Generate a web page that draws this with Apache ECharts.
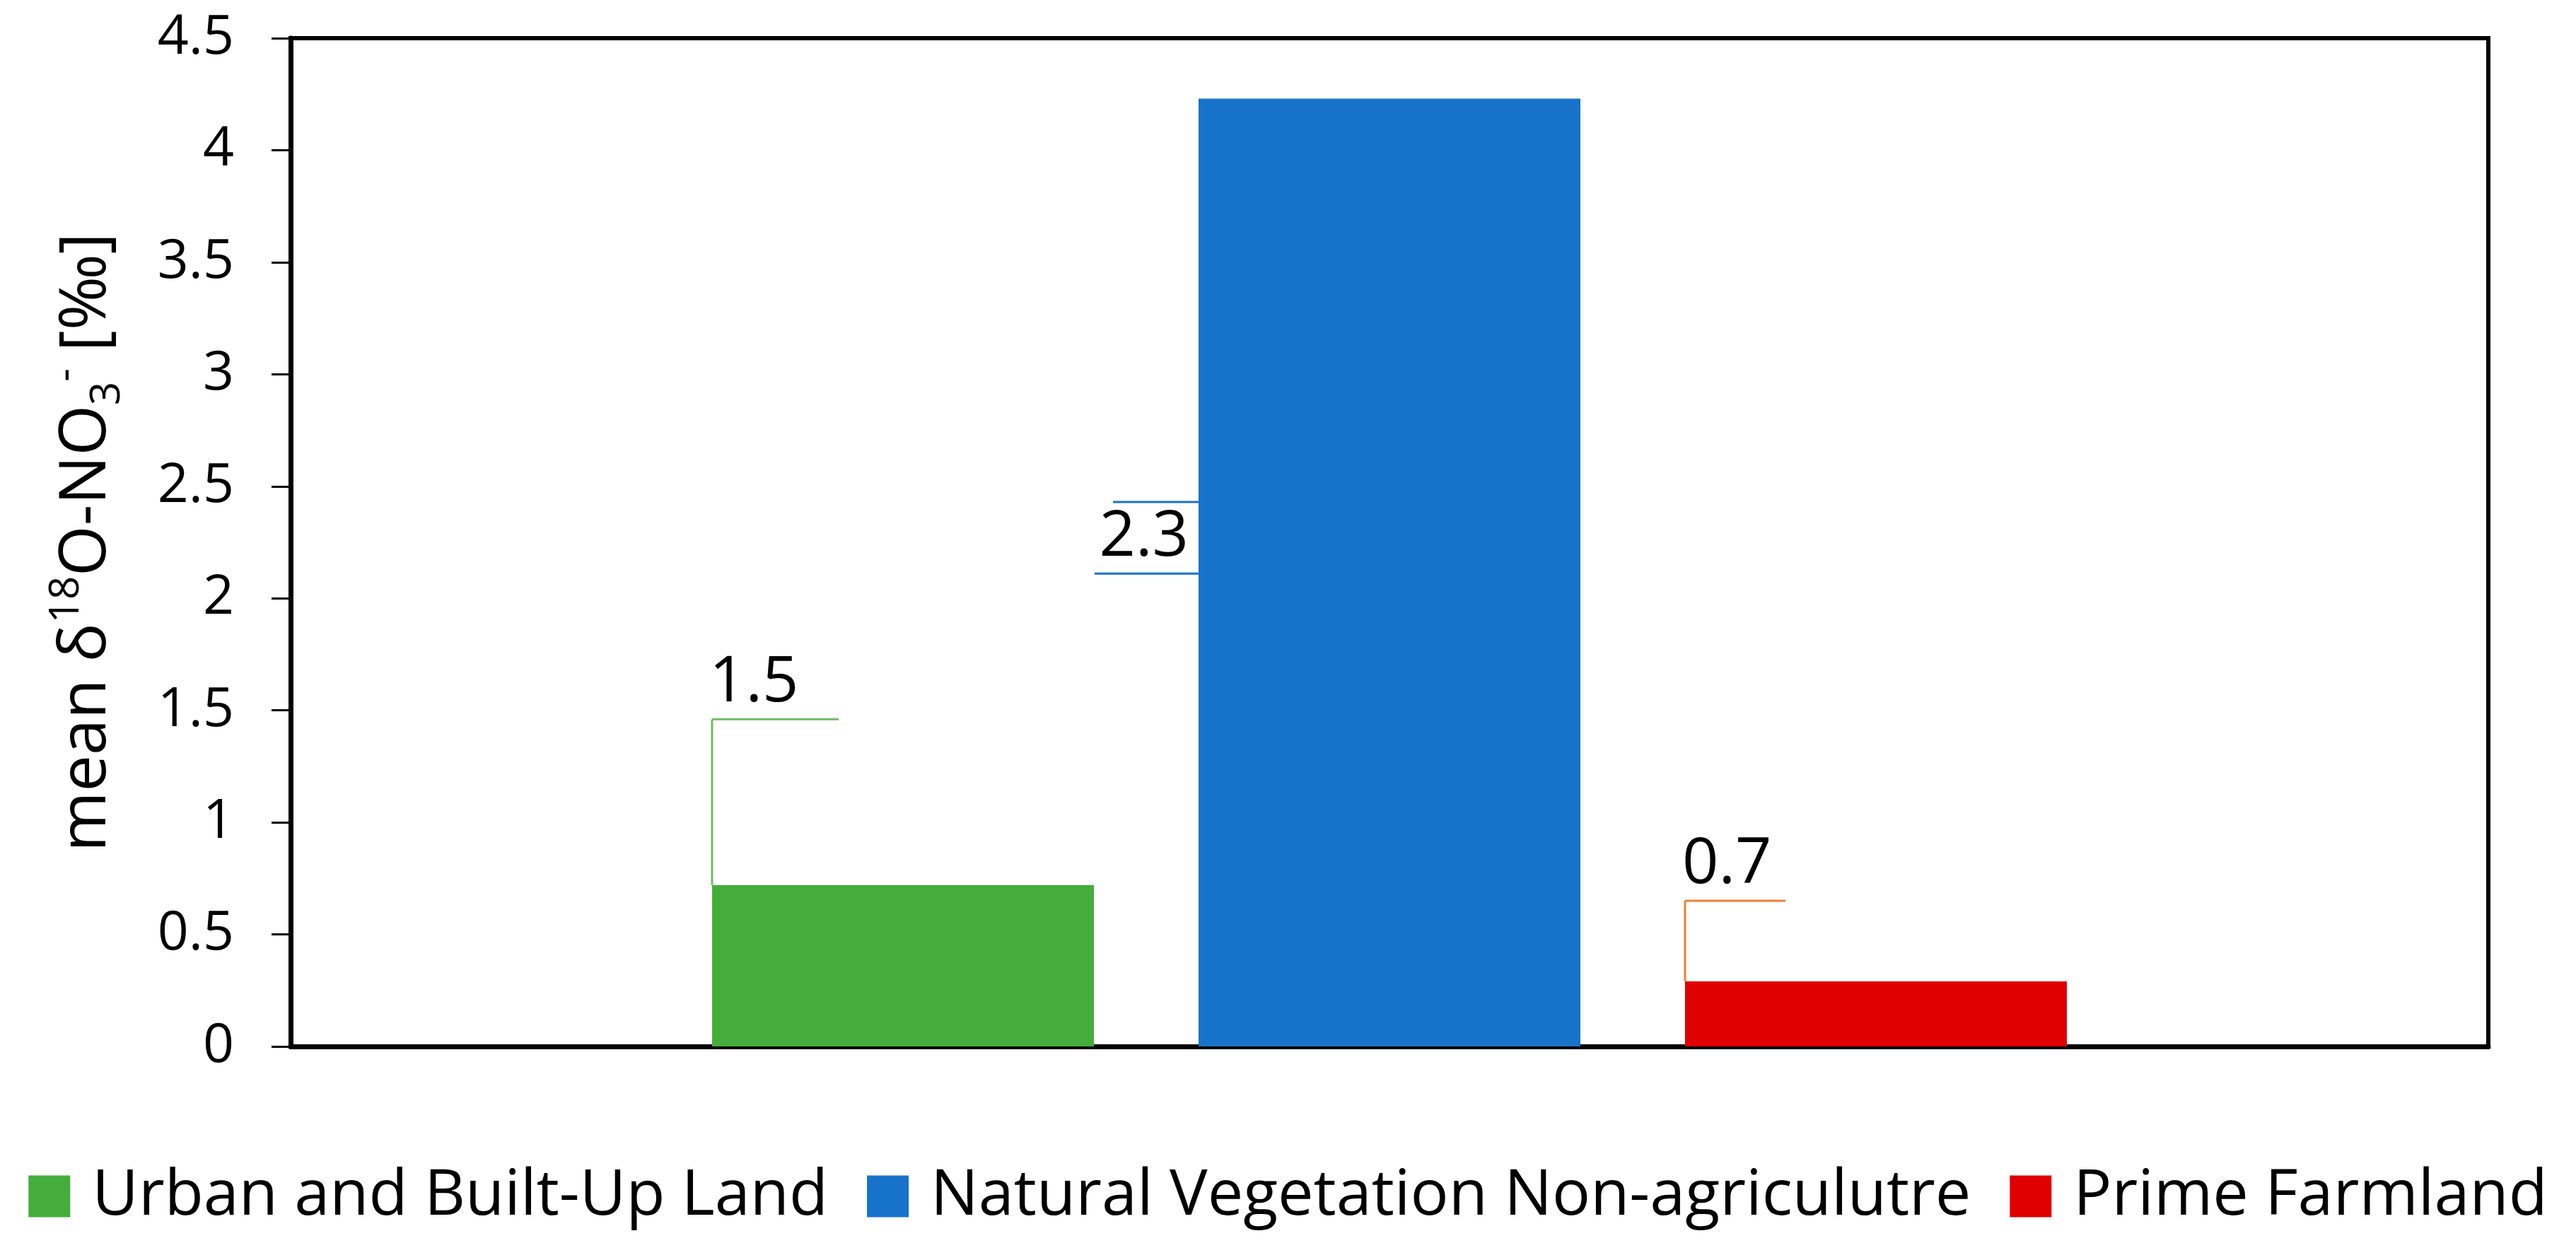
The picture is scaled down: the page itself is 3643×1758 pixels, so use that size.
<!DOCTYPE html>
<html>
<head>
<meta charset="utf-8">
<script src="https://cdn.jsdelivr.net/npm/echarts@6/dist/echarts.min.js"></script>
<style>
html,body{margin:0;padding:0;background:#fff;}
#chart{width:3643px;height:1758px;}
</style>
</head>
<body>
<div id="chart"></div>
<script>
// ---- data ----
const seriesNames = ['Urban and Built-Up Land', 'Natural Vegetation Non-agriculutre', 'Prime Farmland'];
const meanValues = [0.72, 4.23, 0.29];
const calloutLabels = ['1.5', '2.3', '0.7'];
const calloutTop = [1.46, 2.43, 0.65];
const calloutBottom = [0.72, 2.11, 0.29];
const yTicks = [0, 0.5, 1, 1.5, 2, 2.5, 3, 3.5, 4, 4.5];

// ---- style ----
const FONT = '"Open Sans", "Noto Sans", sans-serif';
const barColors = ['#44AD3B', '#1773C9', '#E00000'];
const calloutColors = ['#6CBF5F', '#1773C9', '#F07F33'];
const BAR_W = 540, BAR_GAP = 148;

const chart = echarts.init(document.getElementById('chart'));

const barSeries = seriesNames.map((n, i) => ({
  name: n,
  type: 'bar',
  data: [meanValues[i]],
  barWidth: BAR_W,
  barGap: (BAR_GAP / BAR_W * 100).toFixed(1) + '%',
  itemStyle: { color: barColors[i] },
  z: 2
}));

const calloutSeries = {
  type: 'custom',
  coordinateSystem: 'cartesian2d',
  silent: true,
  z: 3,
  data: calloutLabels.map((l, i) => [0, calloutTop[i], i]),
  renderItem: function (params, api) {
    const i = api.value(2);
    const center = api.coord([0, 0])[0];
    const barLeft = center + (i - 1) * (BAR_W + BAR_GAP) - BAR_W / 2;
    const yTop = api.coord([0, calloutTop[i]])[1];
    const yBot = api.coord([0, calloutBottom[i]])[1];
    const ls = { stroke: calloutColors[i], lineWidth: 3 };
    const txt = { fill: '#000', fontSize: 90, fontFamily: FONT, text: calloutLabels[i] };
    if (i === 1) {
      const yMid = (yTop + yBot) / 2;
      return { type: 'group', children: [
        { type: 'line', shape: { x1: barLeft - 121, y1: yTop, x2: barLeft, y2: yTop }, style: ls },
        { type: 'line', shape: { x1: barLeft - 147, y1: yBot, x2: barLeft, y2: yBot }, style: ls },
        { type: 'text', style: Object.assign({ x: barLeft - 14, y: yMid, align: 'right', verticalAlign: 'middle' }, txt) }
      ]};
    }
    const len = i === 0 ? 179 : 142;
    return { type: 'group', children: [
      { type: 'line', shape: { x1: barLeft, y1: yBot, x2: barLeft, y2: yTop }, style: ls },
      { type: 'line', shape: { x1: barLeft, y1: yTop, x2: barLeft + len, y2: yTop }, style: ls },
      { type: 'text', style: Object.assign({ x: barLeft - 4, y: yTop - 6, align: 'left', verticalAlign: 'bottom' }, txt) }
    ]};
  }
};

const option = {
  backgroundColor: '#fff',
  animation: false,
  grid: {
    left: 411, right: 124, top: 54, bottom: 278,
    show: true, borderColor: '#000', borderWidth: 6, backgroundColor: 'transparent'
  },
  legend: {
    data: seriesNames,
    bottom: 16,
    left: 'center',
    itemWidth: 59,
    itemHeight: 59,
    itemGap: 55,
    icon: 'rect',
    textStyle: { fontSize: 90, fontFamily: FONT, color: '#000', padding: [0, 0, 0, 26] }
  },
  xAxis: {
    type: 'category',
    data: [''],
    axisLine: { show: true, lineStyle: { color: '#000', width: 7 } },
    axisTick: { show: false },
    axisLabel: { show: false },
    splitLine: { show: false }
  },
  yAxis: {
    type: 'value',
    min: yTicks[0],
    max: yTicks[yTicks.length - 1],
    interval: 0.5,
    name: '{a|mean δ}{sup|18}{a|O-NO}{sub|3}{sup|-}{a| [‰]}',
    nameLocation: 'middle',
    nameGap: 230,
    nameTextStyle: {
      fontFamily: FONT, fontSize: 92, color: '#000',
      rich: {
        a: { fontFamily: FONT, fontSize: 92, color: '#000', lineHeight: 116 },
        sup: { fontFamily: FONT, fontSize: 58, color: '#000', verticalAlign: 'top', lineHeight: 116, padding: [0, 0, 42, 0] },
        sub: { fontFamily: FONT, fontSize: 58, color: '#000', verticalAlign: 'bottom', lineHeight: 116, padding: [32, 0, 0, 0] }
      }
    },
    axisLine: { show: true, lineStyle: { color: '#000', width: 7 } },
    axisTick: { show: true, inside: false, length: 27, lineStyle: { color: '#000', width: 3 } },
    axisLabel: {
      fontSize: 77, fontFamily: FONT, color: '#000', margin: 80,
      formatter: v => String(v)
    },
    splitLine: { show: false }
  },
  series: barSeries.concat([calloutSeries])
};
chart.setOption(option);
</script>
</body>
</html>
